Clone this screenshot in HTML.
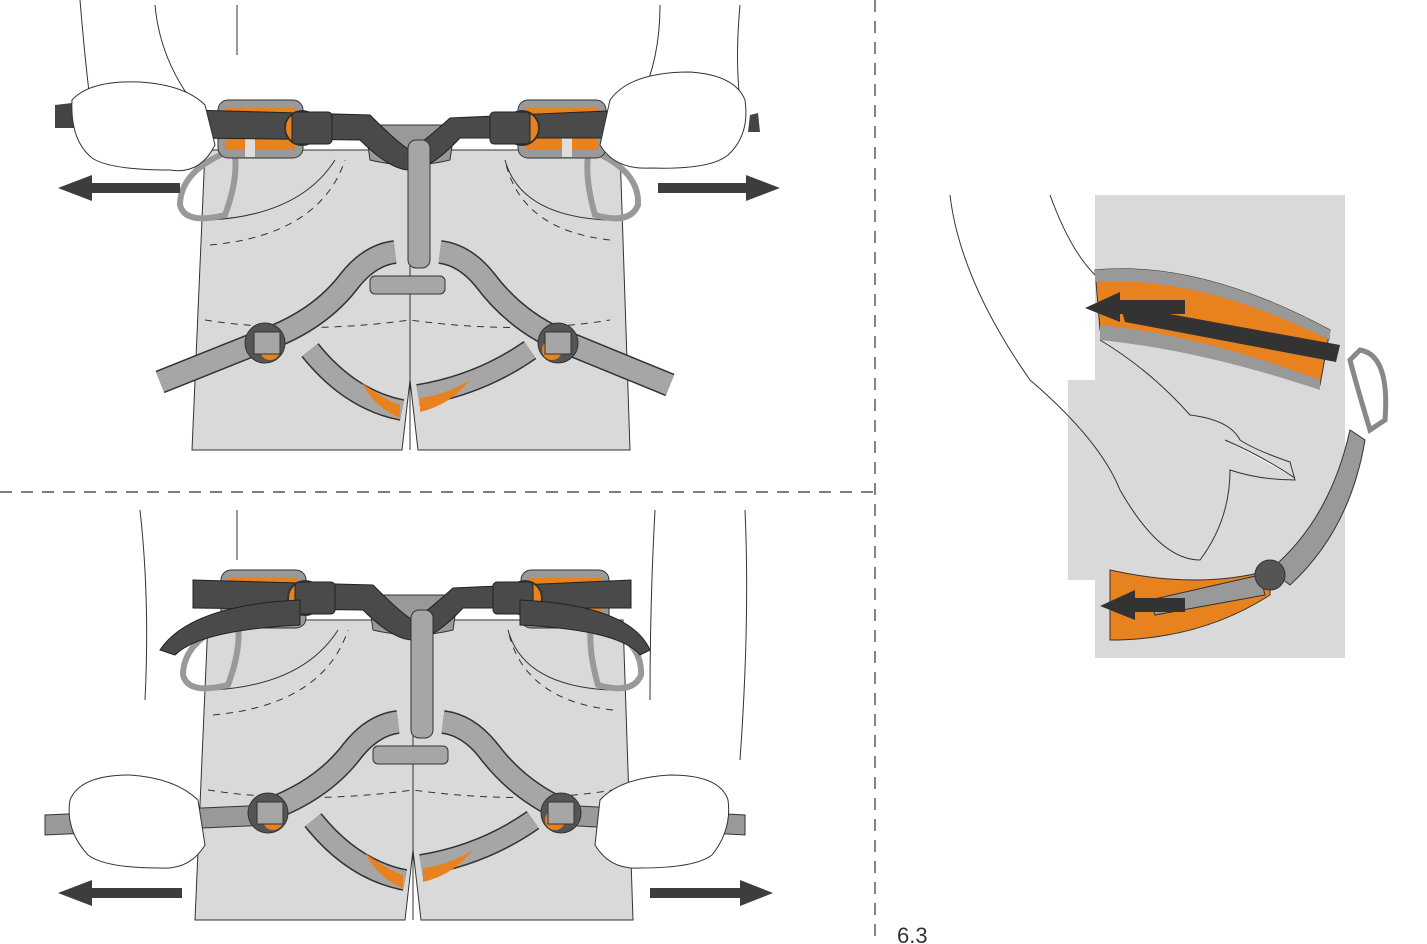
<!DOCTYPE html>
<html><head><meta charset="utf-8"><style>
html,body{margin:0;padding:0;background:#fff;width:1427px;height:944px;overflow:hidden}
svg{display:block}
text{font-family:"Liberation Sans",sans-serif}
</style></head><body>
<svg width="1427" height="944" viewBox="0 0 1427 944" xmlns="http://www.w3.org/2000/svg">
<defs>
<g id="harness">
  <path d="M205 150 L620 150 L630 450 L418 450 L410 380 L402 450 L192 450 Z" fill="#d9d9d9" stroke="#333" stroke-width="1"/>
  <path d="M410 160 L410 450" stroke="#333" stroke-width="1" fill="none"/>
  <path d="M210 245 Q320 235 345 160" stroke="#333" stroke-dasharray="7 6" fill="none"/>
  <path d="M610 240 Q520 230 505 160" stroke="#333" stroke-dasharray="7 6" fill="none"/>
  <path d="M205 320 Q300 335 410 320 Q520 335 610 320" stroke="#333" stroke-dasharray="7 6" fill="none"/>
  <path d="M210 220 Q300 215 335 160 M605 220 Q520 215 505 160" stroke="#333" fill="none"/>
  <path d="M232 150 Q180 170 180 205 Q185 225 225 215 Q238 180 235 155" fill="none" stroke="#999" stroke-width="6"/>
  <path d="M590 150 Q640 170 638 205 Q630 225 595 215 Q585 180 588 155" fill="none" stroke="#999" stroke-width="6"/>
  <rect x="218" y="100" width="85" height="58" rx="10" fill="#999" stroke="#333"/>
  <rect x="225" y="108" width="70" height="42" fill="#e8821e"/>
  <rect x="518" y="100" width="88" height="58" rx="10" fill="#999" stroke="#333"/>
  <rect x="526" y="108" width="72" height="42" fill="#e8821e"/>
  <rect x="245" y="135" width="10" height="22" fill="#ddd"/>
  <rect x="562" y="135" width="10" height="22" fill="#ddd"/>
  <path d="M365 125 L455 125 L450 160 Q410 170 370 160 Z" fill="#999" stroke="#333"/>
  <path d="M190 110 L370 115 Q400 145 410 150 Q420 145 450 118 L628 110 L628 138 L460 138 Q430 170 410 170 Q390 170 360 140 L190 138 Z" fill="#4a4a4a" stroke="#222"/>
  <circle cx="302" cy="128" r="17" fill="#e8821e" stroke="#333" stroke-width="2"/>
  <rect x="292" y="112" width="40" height="32" rx="4" fill="#4a4a4a" stroke="#222"/>
  <circle cx="522" cy="128" r="17" fill="#e8821e" stroke="#333" stroke-width="2"/>
  <rect x="490" y="112" width="40" height="32" rx="4" fill="#4a4a4a" stroke="#222"/>
  <rect x="408" y="140" width="22" height="128" rx="8" fill="#a6a6a6" stroke="#333"/>
  <path d="M395 252 Q370 255 350 280 Q320 320 265 340" fill="none" stroke="#333" stroke-width="24"/>
  <path d="M395 252 Q370 255 350 280 Q320 320 265 340" fill="none" stroke="#a6a6a6" stroke-width="21"/>
  <path d="M440 252 Q465 255 485 280 Q515 320 560 340" fill="none" stroke="#333" stroke-width="24"/>
  <path d="M440 252 Q465 255 485 280 Q515 320 560 340" fill="none" stroke="#a6a6a6" stroke-width="21"/>
  <path d="M310 350 Q350 400 402 410" fill="none" stroke="#333" stroke-width="22"/>
  <path d="M310 350 Q350 400 402 410" fill="none" stroke="#a6a6a6" stroke-width="19"/>
  <path d="M530 350 Q480 385 418 395" fill="none" stroke="#333" stroke-width="22"/>
  <path d="M530 350 Q480 385 418 395" fill="none" stroke="#a6a6a6" stroke-width="19"/>
  <path d="M362 383 Q385 400 400 405 L400 418 Q375 408 362 383Z" fill="#e8821e"/>
  <path d="M470 380 Q445 395 420 398 L420 412 Q450 405 470 380Z" fill="#e8821e"/>
  <rect x="370" y="276" width="75" height="18" rx="5" fill="#a6a6a6" stroke="#333"/>
</g>
<g id="buckles">
  <circle cx="265" cy="343" r="20" fill="#555" stroke="#333"/>
  <circle cx="270" cy="350" r="10" fill="#e8821e"/>
  <rect x="254" y="332" width="26" height="22" fill="#a6a6a6" stroke="#333"/>
  <circle cx="558" cy="343" r="20" fill="#555" stroke="#333"/>
  <circle cx="552" cy="350" r="10" fill="#e8821e"/>
  <rect x="545" y="332" width="26" height="22" fill="#a6a6a6" stroke="#333"/>
</g>
</defs>

<line x1="875" y1="0" x2="875" y2="944" stroke="#333" stroke-width="1.2" stroke-dasharray="12 9"/>
<line x1="0" y1="492" x2="875" y2="492" stroke="#333" stroke-width="1.2" stroke-dasharray="12 9"/>

<!-- TOP PANEL -->
<path d="M80 0 Q85 60 90 100 M155 5 Q160 60 195 105 M237 5 L237 55 M660 5 Q660 60 640 100 M740 5 Q735 60 740 100" stroke="#333" fill="none"/>
<use href="#harness"/>
<path d="M265 340 L160 382" stroke="#333" stroke-width="24"/>
<path d="M265 340 L160 382" stroke="#a6a6a6" stroke-width="21"/>
<path d="M560 340 L670 385" stroke="#333" stroke-width="24"/>
<path d="M560 340 L670 385" stroke="#a6a6a6" stroke-width="21"/>
<use href="#buckles"/>
<path d="M55 105 L72 103 L74 128 L55 128Z" fill="#444"/>
<path d="M750 115 L758 113 L760 132 L748 132Z" fill="#444"/>
<path d="M72 100 Q90 80 140 82 Q185 85 205 105 L215 145 Q200 175 170 170 Q110 170 92 158 Q70 140 72 100Z" fill="#fff" stroke="#333"/>
<path d="M745 100 Q735 75 690 72 Q630 72 610 100 L600 145 Q615 170 650 168 Q710 170 728 155 Q750 135 745 100Z" fill="#fff" stroke="#333"/>
<path d="M180 183 L92 183 L92 175 L58 188 L92 201 L92 193 L180 193Z" fill="#3d3d3d"/>
<path d="M658 183 L746 183 L746 175 L780 188 L746 201 L746 193 L658 193Z" fill="#3d3d3d"/>

<!-- BOTTOM PANEL -->
<path d="M140 510 Q150 600 145 700 M237 510 L237 560 M655 510 Q650 600 650 700 M745 510 Q750 620 740 760" stroke="#333" fill="none"/>
<use href="#harness" transform="translate(3,470)"/>
<path d="M160 650 Q190 605 300 600 L300 625 Q200 630 175 655Z" fill="#4a4a4a" stroke="#222"/>
<path d="M650 650 Q630 605 520 600 L520 625 Q620 630 640 655Z" fill="#4a4a4a" stroke="#222"/>
<path d="M45 815 L268 805 L268 825 L45 835Z" fill="#999" stroke="#333"/>
<path d="M560 805 L745 815 L745 835 L560 825Z" fill="#999" stroke="#333"/>
<use href="#buckles" transform="translate(3,470)"/>
<path d="M70 800 Q80 775 130 775 Q175 778 198 800 L205 845 Q190 870 160 868 Q105 868 88 855 Q65 830 70 800Z" fill="#fff" stroke="#333"/>
<path d="M728 800 Q720 775 670 775 Q620 778 600 800 L595 845 Q610 870 640 868 Q695 868 712 855 Q732 830 728 800Z" fill="#fff" stroke="#333"/>
<path d="M182 888 L92 888 L92 880 L58 893 L92 906 L92 898 L182 898Z" fill="#3d3d3d"/>
<path d="M650 888 L740 888 L740 880 L773 893 L740 906 L740 898 L650 898Z" fill="#3d3d3d"/>

<!-- RIGHT PANEL -->
<rect x="1095" y="195" width="250" height="463" fill="#d9d9d9"/>
<rect x="1068" y="380" width="60" height="200" fill="#d9d9d9"/>
<path d="M1095 270 Q1200 260 1330 330 L1320 385 Q1200 340 1100 330Z" fill="#e8821e" stroke="#333"/>
<path d="M1095 270 Q1200 260 1330 330 L1330 340 Q1200 275 1095 282Z" fill="#999"/>
<path d="M1100 325 Q1200 335 1320 380 L1320 390 Q1200 350 1100 340Z" fill="#999"/>
<path d="M1120 305 L1340 345 L1336 362 L1125 322Z" fill="#333"/>
<path d="M1360 350 Q1390 355 1385 420 L1370 430 Q1355 380 1350 360Z" fill="none" stroke="#888" stroke-width="5"/>
<path d="M1350 430 Q1330 520 1270 570 L1290 585 Q1350 530 1365 440Z" fill="#999" stroke="#333"/>
<path d="M1110 570 Q1200 590 1270 570 L1270 595 Q1200 640 1110 640Z" fill="#e8821e" stroke="#333"/>
<path d="M1150 600 L1260 575 L1265 595 L1155 615Z" fill="#999" stroke="#333"/>
<circle cx="1270" cy="575" r="15" fill="#555" stroke="#333"/>
<path d="M1185 300 L1120 300 L1120 292 L1085 308 L1120 322 L1120 314 L1185 314Z" fill="#333"/>
<path d="M1185 598 L1135 598 L1135 590 L1100 606 L1135 620 L1135 612 L1185 612Z" fill="#333"/>
<path d="M950 195 Q960 280 1030 380 Q1100 440 1120 490 Q1160 560 1200 560 Q1230 520 1230 470 Q1260 480 1295 480 L1290 462 Q1255 450 1240 440 Q1230 420 1190 415 Q1150 370 1100 340 M1050 195 Q1070 250 1095 275" stroke="#333" fill="none"/>
<path d="M1225 440 Q1260 455 1295 478" stroke="#333" fill="#fff"/>

<text x="897" y="943" font-size="22" fill="#333">6.3</text>
</svg>
</body></html>
